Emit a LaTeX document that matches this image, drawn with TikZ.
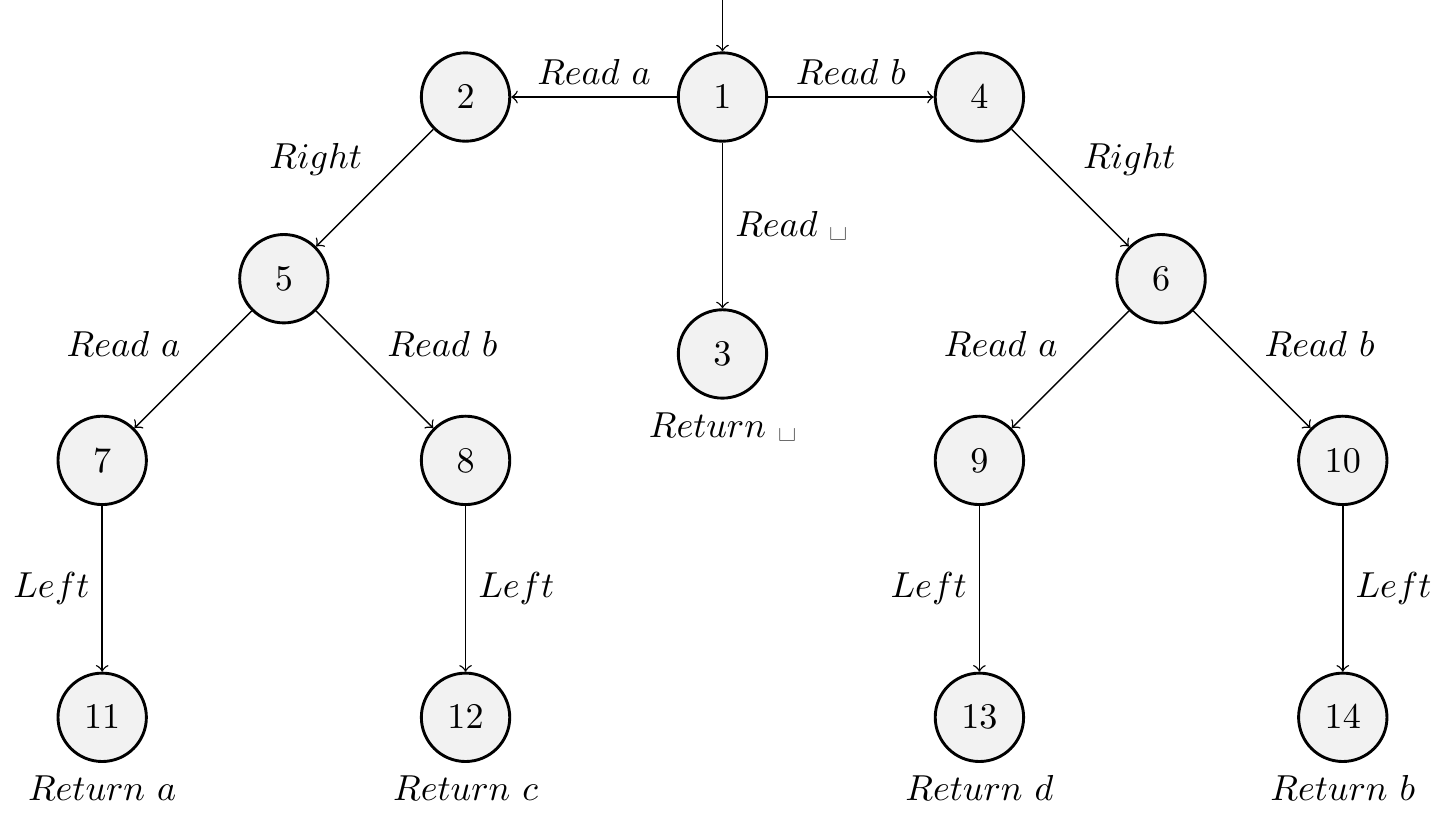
\documentclass[tikz,border=0pt]{standalone}
\usepackage{amsmath}
\usepackage{tikz}
\usetikzlibrary{positioning}
\tikzset{stnode/.style={circle,draw,thick,fill=gray!10,minimum size=0.86cm,inner sep=0pt},
  every edge/.style={draw,->}}
\begin{document}
\begin{tikzpicture}[on grid,node distance=2.5cm]
\useasboundingbox (-7.03,-7.07) rectangle (7.04,0.944);
\node (n1) [stnode] at (0,0) {$1$};
\node (n2) [stnode, left=of n1] {$2$};
\node (n4) [stnode, right=of n1] {$4$};
\node (n3) [stnode, below=of n1, label=below:{$Return\ \text{\textvisiblespace}$}] {$3$};
\node (n5) [stnode, below left=of n2] {$5$};
\node (n6) [stnode, below right=of n4] {$6$};
\node (n7) [stnode, below left=of n5] {$7$};
\node (n8) [stnode, below right=of n5] {$8$};
\node (n9) [stnode, below left=of n6] {$9$};
\node (n10) [stnode, below right=of n6] {$10$};
\node (n11) [stnode, below=of n7, label=below:{$Return\ a$}] {$11$};
\node (n12) [stnode, below=of n8, label=below:{$Return\ c$}] {$12$};
\node (n13) [stnode, below=of n9, label=below:{$Return\ d$}] {$13$};
\node (n14) [stnode, below=of n10, label=below:{$Return\ b$}] {$14$};
\coordinate [above=0.95cm of n1] (start);

\draw[->] (start) -- (n1);
\path (n1) edge node [above] {$Read\ a$} (n2)
      (n1) edge node [above] {$Read\ b$} (n4)
      (n1) edge node [right] {$Read\ \text{\textvisiblespace}$} (n3)
      (n2) edge node [above left] {$Right$} (n5)
      (n4) edge node [above right] {$Right$} (n6)
      (n5) edge node [above left] {$Read\ a$} (n7)
      (n5) edge node [above right] {$Read\ b$} (n8)
      (n6) edge node [above left] {$Read\ a$} (n9)
      (n6) edge node [above right] {$Read\ b$} (n10)
      (n7) edge node [left] {$Left$} (n11)
      (n8) edge node [right] {$Left$} (n12)
      (n9) edge node [left] {$Left$} (n13)
      (n10) edge node [right] {$Left$} (n14);
\end{tikzpicture}
\end{document}
